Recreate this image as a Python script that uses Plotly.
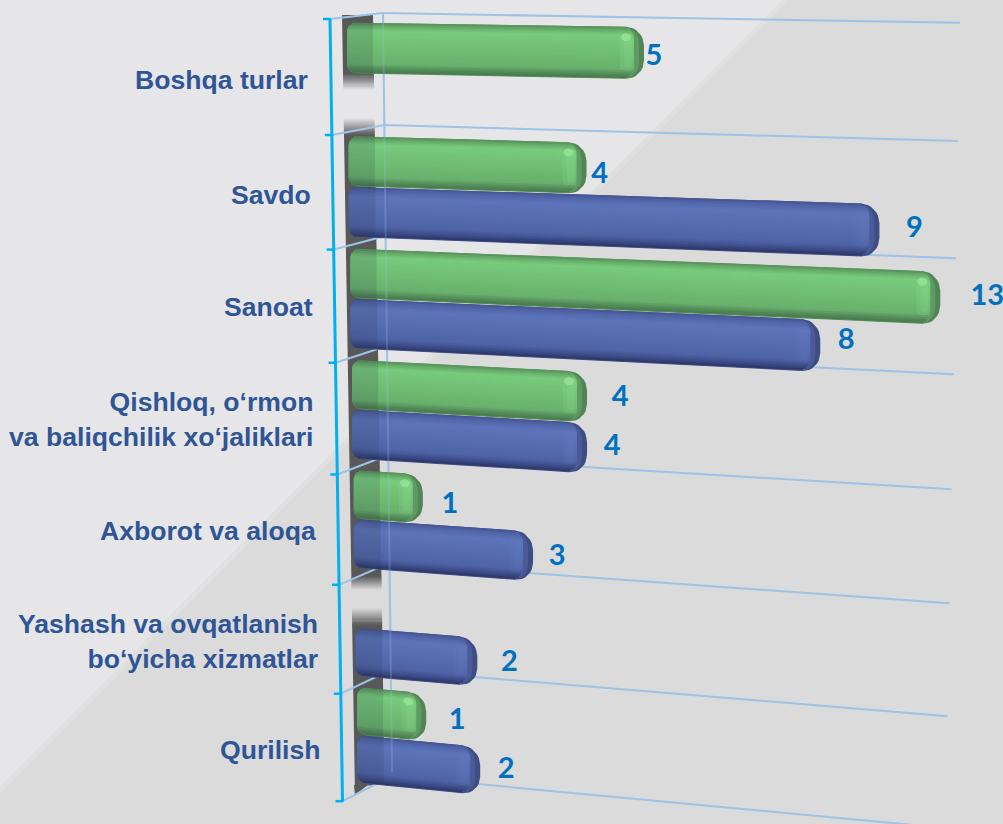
import math
import plotly.graph_objects as go

# ---------- data ----------
categories = ["Boshqa turlar", "Savdo", "Sanoat",
              "Qishloq, o‘rmon<br>va baliqchilik xo‘jaliklari", "Axborot va aloqa",
              "Yashash va ovqatlanish<br>bo‘yicha xizmatlar", "Qurilish"]
green_values = [5, 4, 13, 4, 1, None, 1]
blue_values = [None, 9, 8, 4, 3, 2, 2]
# Lengths: the bar labelled 13 is drawn only about 10 units long.
green_drawn = [5.0, 3.98, 10.05, 3.93, 1.07, None, 1.07]
blue_drawn = [None, 9.03, 7.98, 3.93, 2.97, 1.98, 2.0]

# ---------- layout constants ----------
W, H = 1003, 824
UNIT = 58.0          # px per value unit
DEPTH = 7            # px added by the bar's end cap
label_right = [310, 313, 315, 316, 318, 320, 322]
label_mid = [80, 195, 307, 419, 531, 641, 750]
green_dx = [10, 13, 47, 33, 27, 0, 31]
blue_dx = [0, 35, 26, 25, 24, 32, 26]
green_dy = [5, 7, 0, 2, 7, 0, 5]
blue_dy = [0, -1, -4, 0, 1, 2, 0]

GREEN_STOPS = [(0, "#558f58"), (.05, "#62a466"), (.16, "#78cc7c"), (.35, "#74c478"),
               (.6, "#6ebb72"), (.82, "#69b06d"), (.93, "#538a58"), (1, "#457a4b")]
BLUE_STOPS = [(0, "#44548f"), (.06, "#4f62a6"), (.2, "#5d74ba"), (.5, "#576db1"),
              (.8, "#4f63a5"), (.92, "#3a4a85"), (1, "#2a3566")]
GRID = "#9dc3e6"
AXIS = "#00b0f0"


# ---------- geometry helpers ----------
def dx(px):
    return px / UNIT


def dy(py):
    return py / 100.0


def sx(px):
    return px / W


def sy(py):
    return 1 - py / H


def slope(py):
    return 0.012 + 0.00011 * py


def row(k, series):
    top = 22.7 + 113.5 * k - 0.55 * k * (k - 1)
    h = 50.5 - 0.5 * k
    if series == "blue":
        top += h + 0.7
    return top, h


def left(k):
    return 347 + 1.7 * k


def to_xy(k, series, xl, f):
    t, h = row(k, series)
    py0 = t + h * f
    return left(k) + xl, py0 + slope(py0) * xl


def rr_local(x0, x1, f0, f1, h, rl, rr, n=8):
    """rounded rectangle in (px along bar, fraction across bar)."""
    pts = []
    fr = lambda r: r / h
    for (cx, cf, r, a0) in [(x0 + rl, f0 + fr(rl), rl, 180), (x1 - rr, f0 + fr(rr), rr, 270),
                            (x1 - rr, f1 - fr(rr), rr, 0), (x0 + rl, f1 - fr(rl), rl, 90)]:
        for i in range(n + 1):
            a = math.radians(a0 + 90 * i / n)
            pts.append((cx + r * math.cos(a), cf + fr(r) * math.sin(a)))
    pts.append(pts[0])
    return pts


def lerp_color(stops, f):
    for (a, ca), (b, cb) in zip(stops, stops[1:]):
        if a <= f <= b:
            t = (f - a) / (b - a)
            rgb = [round(int(ca[i:i + 2], 16) * (1 - t) + int(cb[i:i + 2], 16) * t) for i in (1, 3, 5)]
            return "rgb(%d,%d,%d)" % tuple(rgb)
    return stops[-1][1]


def corner_inset(d, r):
    if d >= r:
        return 0.0
    return r - math.sqrt(max(r * r - (r - d) ** 2, 0))


def add_poly(store, k, series, pts):
    xs, ys = store
    for xl, f in pts:
        px, py = to_xy(k, series, xl, f)
        xs.append(dx(px))
        ys.append(dy(py))
    xs.append(None)
    ys.append(None)


fig = go.Figure()


def add_fill(store, color, name):
    fig.add_trace(go.Scatter(x=store[0], y=store[1], mode="lines", fill="toself", fillcolor=color,
                             line=dict(width=0), hoverinfo="skip", showlegend=False, name=name))


def draw_series(series, values, stops, edge, edge_mid, band, spot):
    N = 26
    outer = ([], [])
    outer_mid = ([], [])
    strips = [([], []) for _ in range(N)]
    overlay = ([], [])
    vbands = [([], []), ([], [])]
    spots = ([], [])
    for k, v in enumerate(values):
        if v is None:
            continue
        t, h = row(k, series)
        ln = UNIT * v + DEPTH
        add_poly(outer, k, series, rr_local(0, ln, 0, 1, h, 9, 18))
        add_poly(outer_mid, k, series, rr_local(0, ln - 5, 0.01, .99, h, 9, 15))
        # shaded body, one strip per tone
        x0, x1, f0, f1 = 0.0, ln - 10, 0.0, 0.985
        r = 9
        for i in range(N):
            a = f0 + (f1 - f0) * i / N
            b = f0 + (f1 - f0) * (i + 1) / N
            mid = (a + b) / 2
            d = min(mid - f0, f1 - mid) * h
            ins_l = corner_inset(d, r)
            ins_r = corner_inset(d, 12)
            b2 = min(b + 0.012, f1)
            add_poly(strips[i], k, series, [(x0 + ins_l, a), (x1 - ins_r, a), (x1 - ins_r, b2),
                                            (x0 + ins_l, b2), (x0 + ins_l, a)])
        # soft vertical glow before the end cap
        add_poly(vbands[0], k, series, rr_local(ln - 24, ln - 10, .14, .84, h, 4, 5, 4))
        add_poly(vbands[1], k, series, rr_local(ln - 20, ln - 12, .18, .78, h, 3, 4, 4))
        if spot:
            for rad in (5, 3):
                pts = []
                for i in range(17):
                    a = 2 * math.pi * i / 16
                    pts.append((ln - 18 + rad * math.cos(a), .2 + (rad * .8 / h) * math.sin(a)))
                add_poly(spots, k, series, pts)
        # darker part of each bar that sits in front of the wall
        wall_r = 373 + (t - 15) * 0.015 - left(k)
        add_poly(overlay, k, series, [(8, 0.0), (wall_r, 0.0), (wall_r, 0.985), (8, 0.985), (8, 0.0)])
        add_poly(overlay, k, series, rr_local(0, 10, 0.0, .985, h, 8, 0.01, 5))
    add_fill(outer, edge, series + " edge")
    add_fill(outer_mid, edge_mid, series + " cap")
    for i, s in enumerate(strips):
        c = lerp_color(stops, (i + .5) / N)
        add_fill(s, c, series + " body")
    for vb in vbands:
        add_fill(vb, band, series + " glow")
    if spot:
        add_fill(spots, spot, series + " highlight")
    add_fill(overlay, "rgba(35,50,70,0.15)", series + " wall shade")


draw_series("blue", blue_drawn, BLUE_STOPS, "#3f4d85", "#4a5a96", "rgba(105,125,195,0.14)", None)
draw_series("green", green_drawn, GREEN_STOPS, "#508655", "#5e9a62", "rgba(150,235,155,0.14)", "rgba(170,245,170,0.45)")


# data labels
def label_trace(series, values, drawn, dxs, dys):
    xs, ys, txt = [], [], []
    for k, (v, d) in enumerate(zip(values, drawn)):
        if v is None:
            continue
        ln = UNIT * d + DEPTH
        px, py = to_xy(k, series, ln, .5)
        xs.append(dx(px + dxs[k]))
        ys.append(dy(py + dys[k]))
        txt.append(str(v))
    fig.add_trace(go.Scatter(x=xs, y=ys, text=txt, mode="text", textposition="middle center",
                             textfont=dict(family="Lato", size=29, color="#0070c0", weight="bold"),
                             hoverinfo="skip", showlegend=False, name=series + " labels"))


label_trace("blue", blue_values, blue_drawn, blue_dx, blue_dy)
label_trace("green", green_values, green_drawn, green_dx, green_dy)

# ---------- shapes ----------
shapes = []


def poly(points, fill, layer="below"):
    path = "M " + " L ".join("%.4f %.4f" % (sx(x), sy(y)) for x, y in points) + " Z"
    shapes.append(dict(type="path", path=path, xref="paper", yref="paper", fillcolor=fill,
                       line=dict(width=0), layer=layer))


def seg(x0, y0, x1, y1, color, width, layer="below"):
    shapes.append(dict(type="line", xref="paper", yref="paper", x0=sx(x0), y0=sy(y0), x1=sx(x1), y1=sy(y1),
                       line=dict(color=color, width=width), layer=layer))


# background: lighter triangle in the top-left corner
poly([(0, 0), (783, 0), (0, 787)], "#e6e6e8")
poly([(783, 0), (789, 0), (0, 793), (0, 787)], "#e0e0e1")


def wall_l(y):
    return 342 + (y - 15) * 13 / 780


def wall_r(y):
    return 373 + (y - 15) * 9 / 600


def wall(y0, y1, color=(88, 88, 88)):
    # no gaps between steps: extended by half a pixel
    poly([(wall_l(y0), y0), (wall_r(y0), y0), (wall_r(y1 + .5), y1 + .5), (wall_l(y1 + .5), y1 + .5)],
         "rgb(%d,%d,%d)" % color)


wall(15, 74)
wall(135, 576)
wall(625, 785)
FADE = [(74, 90, -1, (230, 230, 232)), (118, 135, 1, (230, 230, 232)),
        (576, 590, -1, (219, 219, 219)), (608, 625, 1, (219, 219, 219))]
for (a, b, direction, bg) in FADE:
    steps = 14
    for i in range(steps):
        y0 = a + (b - a) * i / steps
        y1 = a + (b - a) * (i + 1) / steps
        fr = (i + .5) / steps
        al = 1 - fr if direction < 0 else fr
        col = tuple(round(88 * al + c * (1 - al)) for c in bg)
        wall(y0, y1, col)
# bottom of the wall follows the floor edge
poly([(354, 785), (385, 785), (385, 772), (355, 795)], "rgb(88,88,88)")
poly([(372, 786), (392, 786), (392, 772)], "#dbdbdb")


def axis_x(y):
    return 330 + (y - 19) * 12.5 / 782


for k in range(8):
    cx = 383 + 9 * k / 7
    cy = 13 + 112 * k - 0.5 * k * (k - 1)
    xr = 960 - 2.1 * k
    seg(cx, cy, xr, cy + (0.017 + 0.011 * k) * (xr - cx), GRID, 2)
    ty = 19 + 116 * k - 0.71 * k * (k - 1)
    seg(axis_x(ty), ty, cx, cy, GRID, 2)
    seg(axis_x(ty) - 7, ty, axis_x(ty) + 1, ty, AXIS, 2.5)

seg(383, 13, 392, 772, GRID, 2)
seg(383, 13, 392, 772, "rgba(157,195,230,0.25)", 2, layer="above")
seg(330, 19, 342.5, 801, AXIS, 3)

# ---------- category labels ----------
annotations = [dict(text=c, xref="paper", yref="paper", x=sx(r), y=sy(m), xanchor="right", yanchor="middle",
                    align="right", showarrow=False,
                    font=dict(family="Liberation Sans", size=26.6, color="#2f5597", weight="bold"))
               for c, r, m in zip(categories, label_right, label_mid)]

fig.update_layout(
    width=W, height=H, margin=dict(l=0, r=0, t=0, b=0),
    paper_bgcolor="#dbdbdb", plot_bgcolor="rgba(0,0,0,0)", showlegend=False,
    shapes=shapes, annotations=annotations,
    xaxis=dict(visible=False, range=[0, dx(W)], fixedrange=True),
    yaxis=dict(visible=False, range=[dy(H), 0], fixedrange=True),
)
fig.write_html("out.html", config=dict(displayModeBar=False),
               post_script="document.body.style.margin='0';document.body.style.overflow='hidden';")
